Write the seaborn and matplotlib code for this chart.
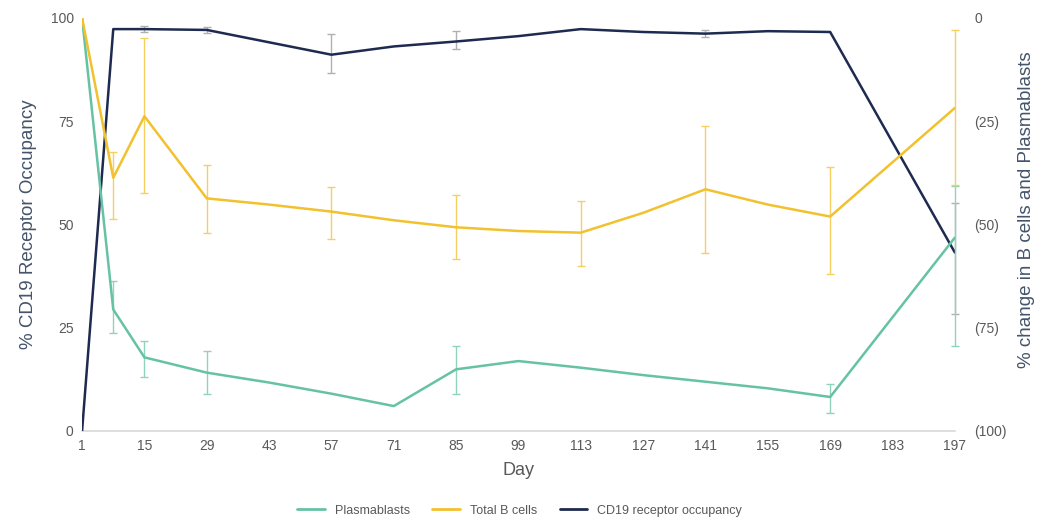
import pandas as pd
import matplotlib
matplotlib.use('Agg')
import matplotlib.pyplot as plt
import seaborn as sns
from matplotlib.ticker import FuncFormatter

# study days with a reading
days = [1, 8, 15, 29, 43, 57, 71, 85, 99, 113, 127, 141, 155, 169, 197]

# % change from baseline (right axis)
plasmablasts = [0, -70.6, -82.2, -85.9, -88.3, -91.0, -94.0, -85.1, -83.1, -84.7, -86.5, -88.1, -89.7, -91.8, -53.2]
b_cells = [0, -38.7, -23.8, -43.7, -45.2, -46.9, -49.0, -50.7, -51.6, -52.0, -47.2, -41.5, -45.2, -48.1, -21.8]
# % receptor occupancy (left axis)
cd19_occ = [0, 97.3, 97.3, 97.1, 94.1, 91.1, 93.1, 94.3, 95.6, 97.3, 96.6, 96.2, 96.8, 96.6, 43.2]

# error bars, given as low / high bounds
pb_err_days = [8, 15, 29, 85, 169, 197]
pb_err_low = [-76.4, -86.9, -91.1, -91.1, -95.6, -79.4]
pb_err_high = [-63.6, -78.2, -80.6, -79.4, -88.7, -40.6]

bc_err_days = [8, 15, 29, 57, 85, 113, 141, 169, 197]
bc_err_low = [-48.8, -42.3, -52.0, -53.6, -58.3, -60.1, -57.0, -62.1, -40.4]
bc_err_high = [-32.5, -4.8, -35.5, -40.9, -43.0, -44.4, -26.1, -36.0, -2.8]

ro_err_days = [15, 29, 57, 85, 141, 197]
ro_err_low = [96.5, 96.3, 86.7, 92.5, 95.5, 28.2]
ro_err_high = [98.0, 97.8, 96.0, 96.8, 97.0, 55.2]

xticks = list(range(1, 198, 14))

c_pb = '#66C2A5'
c_bc = '#F2C12E'
c_ro = '#1E2A4F'
c_lbl = '#44546A'
c_tick = '#595959'

sns.set_theme(style='white')
plt.rcParams['font.family'] = ['Liberation Sans', 'DejaVu Sans']

df = pd.DataFrame({'day': days, 'pb': plasmablasts, 'bc': b_cells, 'ro': cd19_occ})

fig, ax = plt.subplots(figsize=(10.39, 5.28), dpi=100)
fig.subplots_adjust(left=0.079, right=0.919, top=0.966, bottom=0.184)
ax2 = ax.twinx()

def draw_err(axis, xs, lo, hi, color):
    mid = [(a + b) / 2 for a, b in zip(lo, hi)]
    half = [(b - a) / 2 for a, b in zip(lo, hi)]
    eb = axis.errorbar(xs, mid, yerr=half, fmt='none', ecolor=color, elinewidth=1.0,
                       capsize=3, capthick=1.0, zorder=1)
    for art in eb.lines[1] + eb.lines[2]:
        art.set_clip_on(False)

# left axis: receptor occupancy
draw_err(ax, ro_err_days, ro_err_low, ro_err_high, '#B0B0B0')
sns.lineplot(data=df, x='day', y='ro', ax=ax, color=c_ro, linewidth=1.8, zorder=3)

# right axis: % change
draw_err(ax2, pb_err_days, pb_err_low, pb_err_high, '#8FD3BC')
draw_err(ax2, bc_err_days, bc_err_low, bc_err_high, '#F5D060')
sns.lineplot(data=df, x='day', y='pb', ax=ax2, color=c_pb, linewidth=1.8)
sns.lineplot(data=df, x='day', y='bc', ax=ax2, color=c_bc, linewidth=1.8)

ax.set_xlim(1, 197)
ax.set_ylim(0, 100)
ax2.set_ylim(-100, 0)
ax.set_xticks(xticks)
ax.set_yticks([0, 25, 50, 75, 100])
ax2.set_yticks([-100, -75, -50, -25, 0])
ax2.yaxis.set_major_formatter(FuncFormatter(lambda v, p: '0' if v == 0 else '(%d)' % abs(v)))

for a in (ax, ax2):
    for s in a.spines.values():
        s.set_visible(False)
    a.tick_params(length=0, labelsize=10, colors=c_tick, pad=6)
ax2.tick_params(axis='y', pad=14)
ax.spines['bottom'].set_visible(True)
ax.spines['bottom'].set_color('#D9D9D9')
ax.spines['bottom'].set_linewidth(1.2)
ax.tick_params(axis='x', pad=6)

ax.set_xlabel('Day', fontsize=13, color=c_tick, labelpad=6)
ax.set_ylabel('% CD19 Receptor Occupancy', fontsize=13.5, color=c_lbl, labelpad=10)
ax2.set_ylabel('% change in B cells and Plasmablasts', fontsize=13.5, color=c_lbl)
ax2.yaxis.set_label_coords(1.072, 0.535)
ax.grid(False)
ax2.grid(False)

handles = [plt.Line2D([], [], color=c, linewidth=2) for c in (c_pb, c_bc, c_ro)]
fig.legend(handles, ['Plasmablasts', 'Total B cells', 'CD19 receptor occupancy'],
           loc='lower center', ncol=3, frameon=False, fontsize=9,
           bbox_to_anchor=(0.5, 0.0), handlelength=2.2, columnspacing=1.8,
           labelcolor=c_tick)

fig.savefig('out.png', dpi=100)
